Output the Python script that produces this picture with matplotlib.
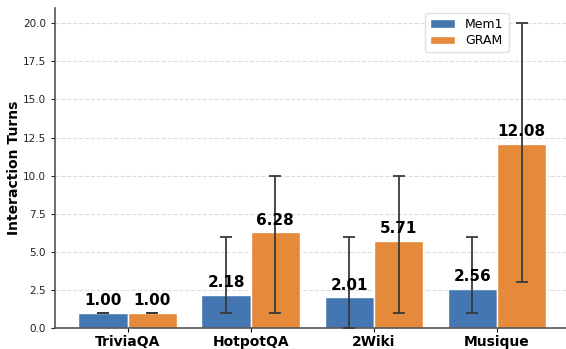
import numpy as np
import matplotlib.pyplot as plt

datasets = ['TriviaQA', 'HotpotQA', '2Wiki', 'Musique']
mem1_mean = [1.00, 2.18, 2.01, 2.56]
mem1_min = [1, 1, 0, 1]
mem1_max = [1, 6, 6, 6]
gram_mean = [1.00, 6.28, 5.71, 12.08]
gram_min = [1, 1, 1, 3]
gram_max = [1, 10, 10, 20]

blue = '#4477b1'
orange = '#e48a3a'

fig = plt.figure(figsize=(5.66, 3.49), dpi=100)
ax = fig.add_axes([0.097, 0.06, 0.903, 0.917])

x = np.arange(len(datasets))
width = 0.4

def err(mean, lo, hi):
    mean = np.array(mean)
    return [mean - np.array(lo), np.array(hi) - mean]

ax.bar(x - width/2, mem1_mean, width, color=blue, edgecolor='white', linewidth=1,
       label='Mem1', zorder=2)
ax.bar(x + width/2, gram_mean, width, color=orange, edgecolor='white', linewidth=1,
       label='GRAM', zorder=2)
ax.errorbar(x - width/2, mem1_mean, yerr=err(mem1_mean, mem1_min, mem1_max), fmt='none',
            ecolor='#3a3a3a', elinewidth=1.3, capsize=4, capthick=1.3, zorder=3)
ax.errorbar(x + width/2, gram_mean, yerr=err(gram_mean, gram_min, gram_max), fmt='none',
            ecolor='#3a3a3a', elinewidth=1.3, capsize=4, capthick=1.3, zorder=3)

# value labels above bars
for xs, vals in [(x - width/2, mem1_mean), (x + width/2, gram_mean)]:
    for xi, v in zip(xs, vals):
        ax.text(xi, v + 0.3, f'{v:.2f}', ha='center', va='bottom',
                fontsize=11, fontweight='bold', zorder=4)

ax.set_xticks(x)
ax.set_xticklabels(datasets, fontsize=10, fontweight='bold')
ax.set_ylabel('Interaction Turns', fontsize=10, fontweight='bold', labelpad=1)
ax.set_ylim(0, 21)
ax.set_xlim(-0.59, 3.56)
ax.set_yticks(np.arange(0, 20.1, 2.5))
ax.tick_params(axis='y', labelsize=7.5, colors='#222222', length=3)
ax.tick_params(axis='x', length=3, pad=2)
ax.yaxis.grid(True, linestyle='--', color='#dddddd', linewidth=0.8, zorder=0)
ax.set_axisbelow(True)
for s in ['top', 'right']:
    ax.spines[s].set_visible(False)
for s in ['left', 'bottom']:
    ax.spines[s].set_color('#555555')
    ax.spines[s].set_linewidth(1.2)

ax.legend(loc='upper right', bbox_to_anchor=(0.9, 1.005), fontsize=9, framealpha=0.9,
          edgecolor='#dddddd', borderpad=0.4, labelspacing=0.3)

fig.savefig('out.png', dpi=100)
